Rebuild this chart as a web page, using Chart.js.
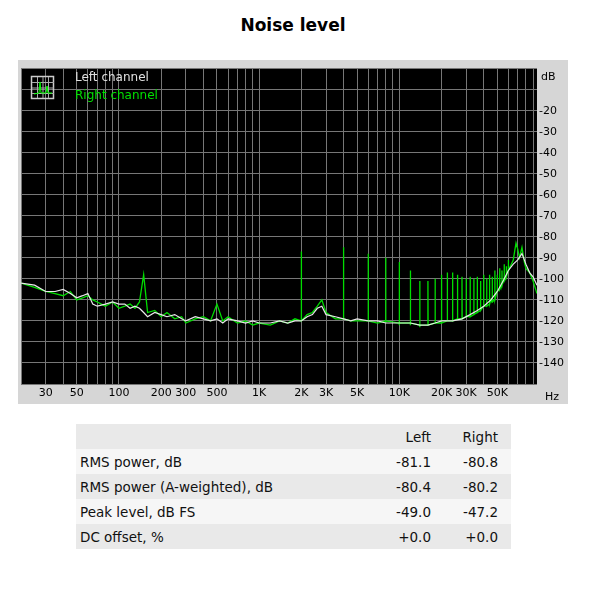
<!DOCTYPE html>
<html><head><meta charset="utf-8">
<script src="https://cdn.jsdelivr.net/npm/chart.js@4"></script>
<style>
body{margin:0;background:#fff;width:600px;height:590px;position:relative;font-family:"DejaVu Sans",Verdana,sans-serif;}
#title{position:absolute;top:15px;left:0;width:586px;text-align:center;font-weight:bold;font-size:17px;color:#000;}
#wrap{position:absolute;left:18px;top:60px;width:550px;height:344px;}
table{position:absolute;left:76px;top:424px;width:435px;border-collapse:collapse;font-size:13.5px;color:#111;}
td{height:25px;padding:0 0 0 4px;}
td.n{text-align:right;padding-right:13px;width:50px;}
tr:nth-child(odd){background:#e9e9e9;} tr:nth-child(even){background:#f6f6f6;}
</style></head><body>
<div id="title">Noise level</div>
<div id="wrap"><canvas id="c" width="550" height="344"></canvas></div>
<table>
<tr><td></td><td class="n">Left</td><td class="n">Right</td></tr>
<tr><td>RMS power, dB</td><td class="n">-81.1</td><td class="n">-80.8</td></tr>
<tr><td>RMS power (A-weighted), dB</td><td class="n">-80.4</td><td class="n">-80.2</td></tr>
<tr><td>Peak level, dB FS</td><td class="n">-49.0</td><td class="n">-47.2</td></tr>
<tr><td>DC offset, %</td><td class="n">+0.0</td><td class="n">+0.0</td></tr>
</table>
<script>
const leftFreq=[20,25,30,35,40,45,50,55,60,65,70,80,90,100,110,120,130,140,150,160,180,200,220,250,280,300,350,400,450,500,550,600,700,800,900,1000,1200,1400,1600,1800,2000,2200,2400,2600,2800,3000,3500,4000,4500,5000,6000,7000,8000,10000,12000,14000,16000,18000,20000,24000,28000,32000,36000,40000,45000,50000,55000,60000,65000,70000,75000,80000,85000,90000,96000];
const leftVal=[-102,-103,-106,-106,-105,-107,-109,-108,-107,-112,-113,-112,-111,-112,-112,-114,-113,-114,-116,-118,-116,-117,-118,-117,-119,-120,-118,-119,-120,-119,-121,-119,-120,-121,-120,-121,-121,-120,-121,-120,-120,-118,-117,-114,-113,-117,-118,-119,-120,-119,-120,-120,-121,-121,-121,-122,-122,-121,-120,-120,-119,-117,-115,-113,-110,-106,-101,-96,-93,-91,-88,-93,-97,-99,-103];
const rightFreq=[20,25,30,35,40,45,50,55,60,65,70,80,90,100,110,120,130,140,150,160,180,200,220,250,280,300,350,400,450,500,550,600,700,800,900,1000,1200,1400,1600,1800,2000,2200,2400,2600,2800,3000,3500,4000,4500,5000,6000,7000,8000,10000,12000,14000,16000,18000,20000,24000,28000,32000,36000,40000,45000,50000,55000,60000,65000,68000,70000,72000,75000,78000,80000,85000,90000,96000];
const rightVal=[-102,-104,-106,-107,-108,-106,-110,-109,-108,-110,-111,-113,-111,-114,-113,-112,-114,-111,-98,-116,-115,-118,-116,-119,-118,-121,-119,-118,-120,-112,-120,-118,-121,-120,-122,-121,-122,-120,-121,-119,-120,-117,-116,-113,-110,-116,-119,-118,-120,-120,-120,-121,-121,-122,-122,-123,-122,-121,-121,-120,-119,-118,-116,-113,-110,-106,-101,-95,-91,-83,-86,-90,-85,-92,-95,-97,-101,-107];
const spikeFreq=[2000,4000,6000,8000,10000,12000,14000,16000,18000,20000,22000,24000,26000,28000,30000,32000,34000,36000,38000,40000,42000,44000,46000,48000,50000,52000,54000,56000,58000,60000];
const spikeTop=[-87,-85,-88,-90,-92,-96,-101,-101,-100,-98,-97,-97,-98,-99,-100,-99,-100,-99,-101,-98,-100,-98,-99,-96,-98,-95,-96,-93,-94,-91];
const spikeFloor=[-120,-119,-120,-120,-121,-121,-122,-122,-121,-121,-120,-120,-119,-119,-118,-118,-117,-116,-115,-113,-113,-112,-111,-110,-106,-105,-103,-101,-99,-96];
const xLabels={30:'30',50:'50',100:'100',200:'200',300:'300',500:'500',1000:'1K',2000:'2K',3000:'3K',5000:'5K',10000:'10K',20000:'20K',30000:'30K',50000:'50K'};
const yMin=-150,yMax=0;

const leftPts=leftFreq.map((f,i)=>({x:f,y:leftVal[i]}));
let rp=rightFreq.map((f,i)=>({x:f,y:rightVal[i]}));
spikeFreq.forEach((f,i)=>{rp.push({x:f*0.997,y:spikeFloor[i]},{x:f,y:spikeTop[i]},{x:f*1.003,y:spikeFloor[i]});});
rp.sort((a,b)=>a.x-b.x);

const gridTicks=[];
for(let d=10;d<=10000;d*=10)for(let m=1;m<=9;m++){const v=m*d;if(v>=20&&v<=96000)gridTicks.push(v);}

const deco={id:'deco',
beforeDraw(ch){const c=ch.ctx,a=ch.chartArea;c.save();c.fillStyle='#d6d6d6';c.fillRect(0,0,ch.width,ch.height);c.fillStyle='#000';c.fillRect(a.left,a.top,a.right-a.left,a.bottom-a.top);c.restore();},
afterDraw(ch){const c=ch.ctx,a=ch.chartArea;c.save();c.font='11px "DejaVu Sans"';c.fillStyle='#000';c.textBaseline='middle';
c.fillText('dB',a.right+4,a.top+9);c.fillText('Hz',a.right+8,a.bottom+13);
// legend icon
c.strokeStyle='#ccc';c.lineWidth=1.5;c.strokeRect(13.5,16.5,22,22);c.strokeStyle='#aaa';c.lineWidth=1;
for(let i=1;i<4;i++){c.beginPath();c.moveTo(14+i*5.5,17);c.lineTo(14+i*5.5,38);c.stroke();c.beginPath();c.moveTo(14,17+i*5.5);c.lineTo(36,17+i*5.5);c.stroke();}
c.strokeStyle='#0f0';c.beginPath();c.moveTo(16,34);c.lineTo(21,33);c.lineTo(22,22);c.lineTo(23,33);c.lineTo(28,33);c.lineTo(29,26);c.lineTo(30,33);c.lineTo(34,33);c.stroke();
c.font='12px "DejaVu Sans"';c.textBaseline='alphabetic';c.fillStyle='#e0e0e0';c.fillText('Left channel',57,21);c.fillStyle='#00e000';c.fillText('Right channel',57,39);
c.restore();}};

new Chart(document.getElementById('c'),{type:'line',
data:{datasets:[{data:leftPts,borderColor:'#e8e8e8',borderWidth:1.2,pointRadius:0,tension:0},{data:rp,borderColor:'#00dd00',borderWidth:1.3,pointRadius:0,tension:0}]},
options:{responsive:false,animation:false,events:[],layout:{padding:{left:2,top:2,right:0,bottom:0}},
plugins:{legend:{display:false},tooltip:{enabled:false}},
scales:{
x:{type:'logarithmic',min:20,max:96000,afterBuildTicks:s=>{s.ticks=gridTicks.map(v=>({value:v}));},afterFit:s=>{s.height=20;},
 grid:{color:'#777',lineWidth:1,drawTicks:false},border:{display:false},
 ticks:{autoSkip:false,maxRotation:0,padding:3,color:'#000',font:{family:'DejaVu Sans',size:11},callback:v=>xLabels[v]||''}},
y:{position:'right',min:yMin,max:yMax,afterBuildTicks:s=>{const t=[];for(let v=yMin;v<=yMax;v+=10)t.push({value:v});s.ticks=t;},afterFit:s=>{s.width=31;},
 grid:{color:'#777',lineWidth:1,drawTicks:false},border:{display:false},
 ticks:{padding:2,color:'#000',font:{family:'DejaVu Sans',size:11},callback:v=>(v<=-20&&v>=-140)?String(v):''}}}},
plugins:[deco]});
</script></body></html>
